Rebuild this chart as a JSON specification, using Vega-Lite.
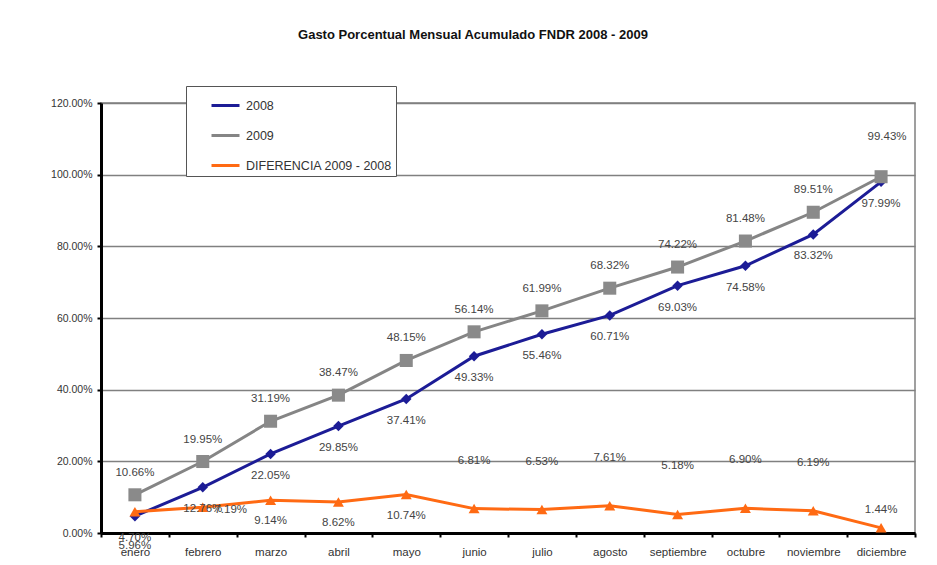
{
  "$schema": "https://vega.github.io/schema/vega-lite/v6.json",
  "width": 814,
  "height": 430,
  "autosize": {"type": "none"},
  "padding": {"left": 101, "top": 103, "right": 22, "bottom": 32},
  "background": "white",
  "title": {
    "text": "Gasto Porcentual Mensual Acumulado FNDR 2008 - 2009",
    "font": "Liberation Sans",
    "fontSize": 13,
    "fontWeight": "bold",
    "color": "#111111",
    "baseline": "bottom",
    "offset": 31,
    "dx": -35
  },
  "config": {
    "view": {"stroke": "#808080", "strokeWidth": 1.5},
    "font": "Liberation Sans"
  },
  "data": {
    "values": [
      {"mes": "enero", "serie": "2008", "valor": 0.0470},
      {"mes": "febrero", "serie": "2008", "valor": 0.1276},
      {"mes": "marzo", "serie": "2008", "valor": 0.2205},
      {"mes": "abril", "serie": "2008", "valor": 0.2985},
      {"mes": "mayo", "serie": "2008", "valor": 0.3741},
      {"mes": "junio", "serie": "2008", "valor": 0.4933},
      {"mes": "julio", "serie": "2008", "valor": 0.5546},
      {"mes": "agosto", "serie": "2008", "valor": 0.6071},
      {"mes": "septiembre", "serie": "2008", "valor": 0.6903},
      {"mes": "octubre", "serie": "2008", "valor": 0.7458},
      {"mes": "noviembre", "serie": "2008", "valor": 0.8332},
      {"mes": "diciembre", "serie": "2008", "valor": 0.9799},
      {"mes": "enero", "serie": "2009", "valor": 0.1066},
      {"mes": "febrero", "serie": "2009", "valor": 0.1995},
      {"mes": "marzo", "serie": "2009", "valor": 0.3119},
      {"mes": "abril", "serie": "2009", "valor": 0.3847},
      {"mes": "mayo", "serie": "2009", "valor": 0.4815},
      {"mes": "junio", "serie": "2009", "valor": 0.5614},
      {"mes": "julio", "serie": "2009", "valor": 0.6199},
      {"mes": "agosto", "serie": "2009", "valor": 0.6832},
      {"mes": "septiembre", "serie": "2009", "valor": 0.7422},
      {"mes": "octubre", "serie": "2009", "valor": 0.8148},
      {"mes": "noviembre", "serie": "2009", "valor": 0.8951},
      {"mes": "diciembre", "serie": "2009", "valor": 0.9943},
      {"mes": "enero", "serie": "DIFERENCIA 2009 - 2008", "valor": 0.0596},
      {"mes": "febrero", "serie": "DIFERENCIA 2009 - 2008", "valor": 0.0719},
      {"mes": "marzo", "serie": "DIFERENCIA 2009 - 2008", "valor": 0.0914},
      {"mes": "abril", "serie": "DIFERENCIA 2009 - 2008", "valor": 0.0862},
      {"mes": "mayo", "serie": "DIFERENCIA 2009 - 2008", "valor": 0.1074},
      {"mes": "junio", "serie": "DIFERENCIA 2009 - 2008", "valor": 0.0681},
      {"mes": "julio", "serie": "DIFERENCIA 2009 - 2008", "valor": 0.0653},
      {"mes": "agosto", "serie": "DIFERENCIA 2009 - 2008", "valor": 0.0761},
      {"mes": "septiembre", "serie": "DIFERENCIA 2009 - 2008", "valor": 0.0518},
      {"mes": "octubre", "serie": "DIFERENCIA 2009 - 2008", "valor": 0.0690},
      {"mes": "noviembre", "serie": "DIFERENCIA 2009 - 2008", "valor": 0.0619},
      {"mes": "diciembre", "serie": "DIFERENCIA 2009 - 2008", "valor": 0.0144}
    ]
  },
  "encoding": {
    "x": {
      "field": "mes",
      "type": "nominal",
      "sort": ["enero", "febrero", "marzo", "abril", "mayo", "junio", "julio", "agosto", "septiembre", "octubre", "noviembre", "diciembre"],
      "scale": {"type": "band", "paddingInner": 0, "paddingOuter": 0},
      "axis": {
        "title": null,
        "labelAngle": 0,
        "domainColor": "black",
        "domainWidth": 3,
        "tickColor": "black",
        "tickWidth": 2,
        "tickSize": 4,
        "tickBand": "extent",
        "grid": false,
        "labelFontSize": 11.5,
        "labelColor": "#333333",
        "labelPadding": 9
      }
    },
    "y": {
      "field": "valor",
      "type": "quantitative",
      "scale": {"domain": [0, 1.2], "nice": false},
      "axis": {
        "title": null,
        "format": ".2%",
        "values": [0, 0.2, 0.4, 0.6, 0.8, 1.0, 1.2],
        "domainColor": "black",
        "domainWidth": 3,
        "tickColor": "black",
        "tickWidth": 2,
        "tickSize": 4,
        "gridColor": "#808080",
        "gridWidth": 1.5,
        "labelFontSize": 10.5,
        "labelColor": "#333333",
        "labelPadding": 5
      }
    }
  },
  "layer": [
    {
      "mark": {"type": "line", "strokeWidth": 3},
      "encoding": {
        "color": {
          "field": "serie",
          "type": "nominal",
          "scale": {
            "domain": ["2008", "2009", "DIFERENCIA 2009 - 2008"],
            "range": ["#1c1c96", "#858585", "#ff6a13"]
          },
          "legend": {
            "orient": "none",
            "legendX": 85,
            "legendY": -17,
            "title": null,
            "symbolType": "stroke",
            "symbolStrokeWidth": 3,
            "symbolSize": 784,
            "labelFontSize": 12.5,
            "labelColor": "#333333",
            "labelOffset": 5,
            "strokeColor": "#555555",
            "fillColor": "white",
            "padding": 4,
            "symbolOffset": 20,
            "rowPadding": 8
          }
        }
      }
    },
    {
      "transform": [{"filter": {"field": "serie", "equal": "2008"}}],
      "mark": {"type": "point", "shape": "diamond", "filled": true, "opacity": 1, "size": 110, "color": "#1c1c96"}
    },
    {
      "transform": [{"filter": {"field": "serie", "equal": "2009"}}],
      "mark": {"type": "point", "shape": "square", "filled": true, "opacity": 1, "size": 170, "color": "#8a8a8a"}
    },
    {
      "transform": [{"filter": {"field": "serie", "equal": "DIFERENCIA 2009 - 2008"}}],
      "mark": {"type": "point", "shape": "triangle-up", "filled": true, "opacity": 1, "size": 120, "color": "#ff6a13"}
    },
    {
      "transform": [{"filter": {"field": "serie", "equal": "2008"}}],
      "mark": {"type": "text", "dy": 22, "fontSize": 11.5, "color": "#444444"},
      "encoding": {"text": {"field": "valor", "type": "quantitative", "format": ".2%"}}
    },
    {
      "transform": [{"filter": {"and": [{"field": "serie", "equal": "2009"}, {"not": {"field": "mes", "equal": "diciembre"}}]}}],
      "mark": {"type": "text", "dy": -22, "fontSize": 11.5, "color": "#444444"},
      "encoding": {"text": {"field": "valor", "type": "quantitative", "format": ".2%"}}
    },
    {
      "transform": [{"filter": {"and": [{"field": "serie", "equal": "2009"}, {"field": "mes", "equal": "diciembre"}]}}],
      "mark": {"type": "text", "dy": -40, "dx": 6, "fontSize": 11.5, "color": "#444444"},
      "encoding": {"text": {"field": "valor", "type": "quantitative", "format": ".2%"}}
    },
    {
      "transform": [{"filter": {"and": [{"field": "serie", "equal": "DIFERENCIA 2009 - 2008"}, {"field": "mes", "oneOf": ["marzo", "abril", "mayo"]}]}}],
      "mark": {"type": "text", "dy": 21, "fontSize": 11.5, "color": "#444444"},
      "encoding": {"text": {"field": "valor", "type": "quantitative", "format": ".2%"}}
    },
    {
      "transform": [{"filter": {"and": [{"field": "serie", "equal": "DIFERENCIA 2009 - 2008"}, {"field": "mes", "oneOf": ["junio", "julio", "agosto", "septiembre", "octubre", "noviembre"]}]}}],
      "mark": {"type": "text", "dy": -48, "fontSize": 11.5, "color": "#444444"},
      "encoding": {"text": {"field": "valor", "type": "quantitative", "format": ".2%"}}
    },
    {
      "transform": [{"filter": {"and": [{"field": "serie", "equal": "DIFERENCIA 2009 - 2008"}, {"field": "mes", "equal": "diciembre"}]}}],
      "mark": {"type": "text", "dy": -18, "fontSize": 11.5, "color": "#444444"},
      "encoding": {"text": {"field": "valor", "type": "quantitative", "format": ".2%"}}
    },
    {
      "transform": [{"filter": {"and": [{"field": "serie", "equal": "DIFERENCIA 2009 - 2008"}, {"field": "mes", "equal": "enero"}]}}],
      "mark": {"type": "text", "dy": 34, "fontSize": 11.5, "color": "#444444"},
      "encoding": {"text": {"field": "valor", "type": "quantitative", "format": ".2%"}}
    },
    {
      "transform": [{"filter": {"and": [{"field": "serie", "equal": "DIFERENCIA 2009 - 2008"}, {"field": "mes", "equal": "febrero"}]}}],
      "mark": {"type": "text", "dy": 3, "dx": 28, "fontSize": 11.5, "color": "#444444"},
      "encoding": {"text": {"field": "valor", "type": "quantitative", "format": ".2%"}}
    }
  ]
}
